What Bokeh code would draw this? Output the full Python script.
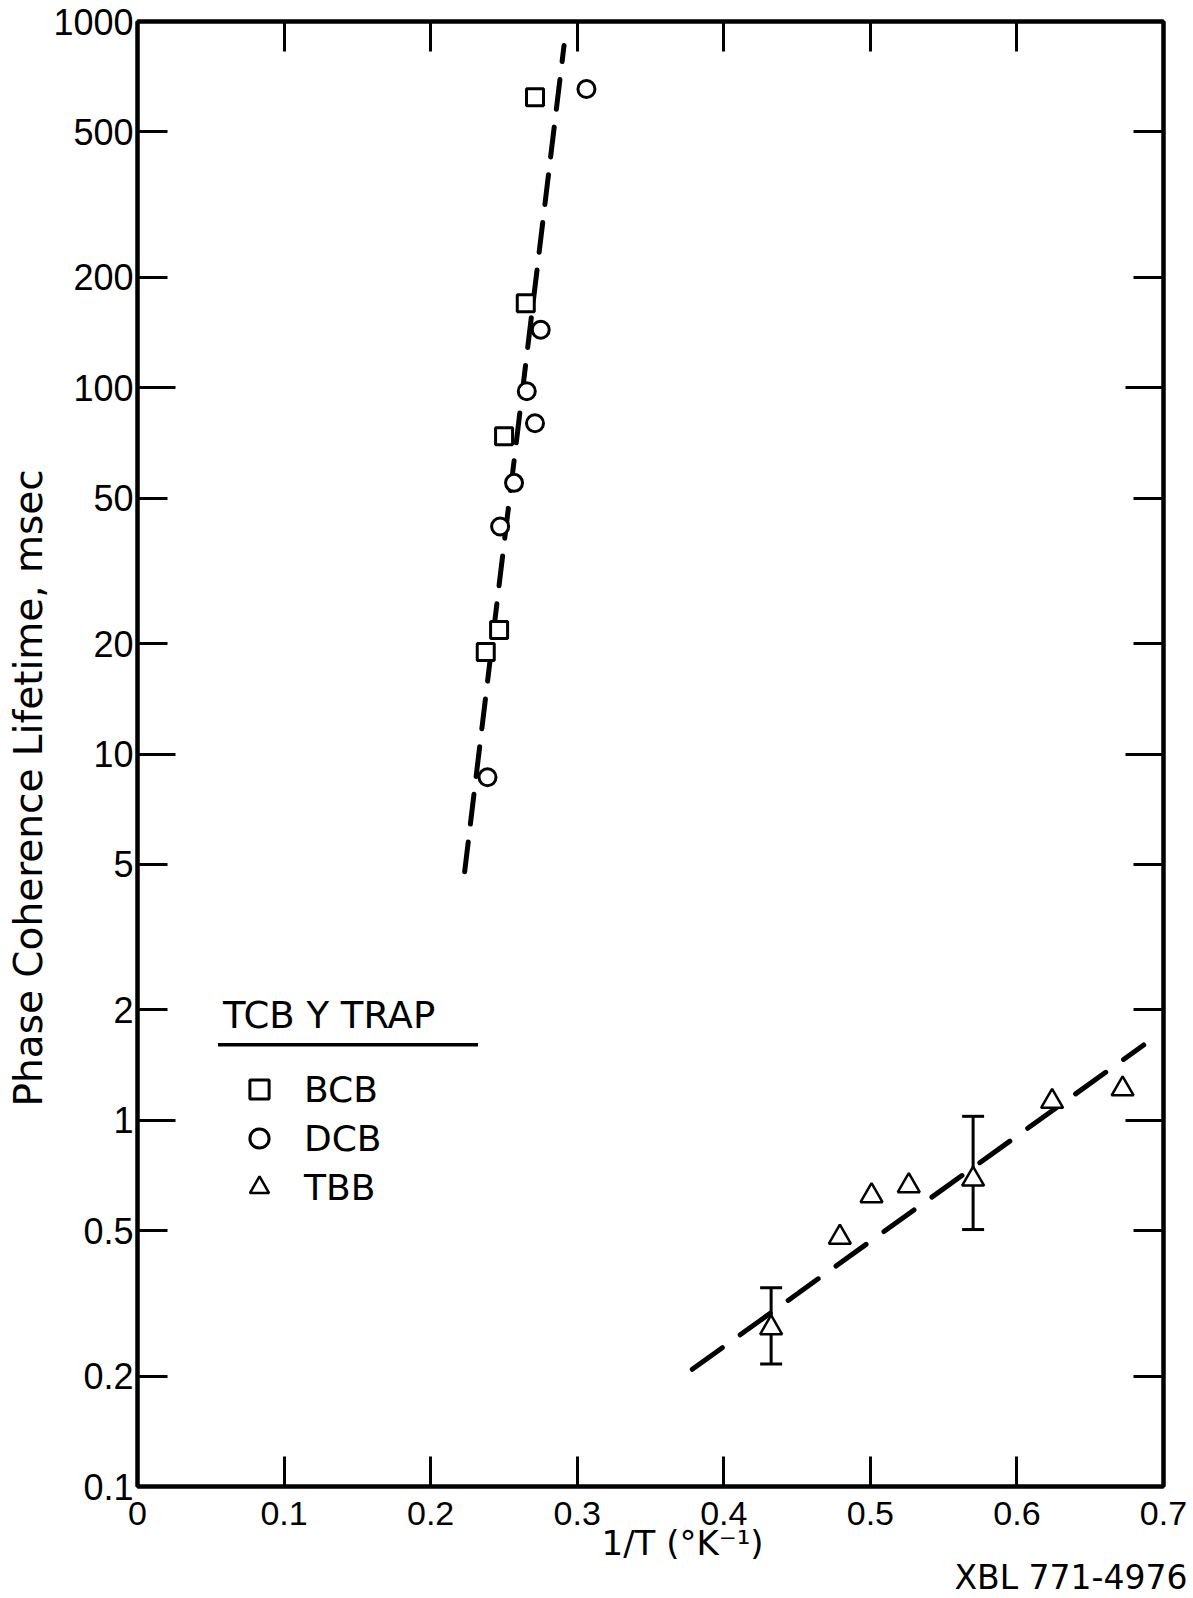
from bokeh.plotting import figure
from bokeh.models import (Range1d, FixedTicker, LinearAxis, LogAxis, Legend, LegendItem,
                          ColumnDataSource, Whisker, TeeHead, Title, BoxAnnotation)
from bokeh.embed import file_html
from bokeh.resources import INLINE

# ---- data ----
bcb_x = [0.2712, 0.2649, 0.2501, 0.2467, 0.2376]
bcb_y = [621, 170, 73.7, 21.8, 19.0]

dcb_x = [0.3063, 0.2751, 0.2656, 0.2712, 0.2569, 0.2474, 0.2388]
dcb_y = [654, 144, 97.8, 80, 55, 41.8, 8.64]

tbb_x = [0.4323, 0.4792, 0.5008, 0.5262, 0.5701, 0.624, 0.6721]
tbb_y = [0.271, 0.479, 0.622, 0.662, 0.690, 1.125, 1.217]

err_x = [0.4323, 0.5701]
err_lo = [0.216, 0.503]
err_hi = [0.349, 1.025]

fit1_x = [0.2232, 0.2910]
fit1_y = [4.77, 860]
fit2_x = [0.3785, 0.6865]
fit2_y = [0.209, 1.605]

x_ticks = [0, 0.1, 0.2, 0.3, 0.4, 0.5, 0.6, 0.7]
x_tick_labels = ["0", "0.1", "0.2", "0.3", "0.4", "0.5", "0.6", "0.7"]
y_ticks = [0.1, 0.2, 0.5, 1, 2, 5, 10, 20, 50, 100, 200, 500, 1000]
y_tick_labels = ["0.1", "0.2", "0.5", "1", "2", "5", "10", "20", "50", "100", "200", "500", "1000"]
y_decades = [0.1, 1, 10, 100, 1000]

legend_title = "TCB Y TRAP"
series_names = ["BCB", "DCB", "TBB"]
x_title = "1/T (°K⁻¹)"
y_title = "Phase Coherence Lifetime, msec"
stamp = "XBL 771-4976"

TITLE_FONT = "DejaVu Sans"
TICK_FONT = "Liberation Sans"

p = figure(width=1188, height=1596, x_range=Range1d(0, 0.7), y_range=Range1d(0.1, 1000),
           y_axis_type="log", output_backend="svg", toolbar_location=None,
           min_border_left=137, min_border_right=25, min_border_top=21, min_border_bottom=110)
p.grid.visible = False
p.outline_line_color = "black"
p.outline_line_width = 4
p.background_fill_color = "white"
p.border_fill_color = "white"


def style_axis(ax, ticks, minor, overrides, show_labels, font_size):
    ax.ticker = FixedTicker(ticks=ticks, minor_ticks=minor)
    ax.axis_line_width = 4
    ax.axis_line_color = "black"
    ax.major_tick_in = 30
    ax.major_tick_out = 0
    ax.minor_tick_in = 38
    ax.minor_tick_out = 0
    ax.major_tick_line_width = 3
    ax.minor_tick_line_width = 3
    ax.major_tick_line_color = "black"
    ax.minor_tick_line_color = "black"
    if show_labels:
        ax.major_label_overrides = overrides
        ax.major_label_text_font = TICK_FONT
        ax.major_label_text_font_size = font_size
        ax.major_label_text_color = "black"
    else:
        ax.major_label_overrides = {t: "" for t in ticks}
        ax.major_label_text_font_size = "0px"
        ax.major_label_standoff = 0


x_over = {t: s for t, s in zip(x_ticks, x_tick_labels)}
y_over = {t: s for t, s in zip(y_ticks, y_tick_labels)}

# bottom x axis (labels only; its title is a Title below so it can sit off-centre)
xa = p.xaxis[0]
style_axis(xa, x_ticks, [], x_over, True, "34px")
xa.major_label_standoff = 15

# left y axis
ya = p.yaxis[0]
style_axis(ya, y_ticks, y_decades, y_over, True, "36px")
ya.major_label_standoff = 4

# top and right mirror axes (ticks only)
top_ax = LinearAxis()
style_axis(top_ax, x_ticks, [], x_over, False, "0px")
p.add_layout(top_ax, "above")
right_ax = LogAxis()
style_axis(right_ax, y_ticks, y_decades, y_over, False, "0px")
p.add_layout(right_ax, "right")

# axis titles
p.add_layout(Title(text=y_title, align="left", offset=380, standoff=0,
                   text_font=TITLE_FONT, text_font_size="39px", text_font_style="normal",
                   text_color="black"), "left")
p.add_layout(Title(text=x_title, align="left", offset=464, standoff=-14,
                   text_font=TITLE_FONT, text_font_size="34px", text_font_style="normal",
                   text_color="black"), "below")
p.add_layout(Title(text=stamp, align="right", offset=-24, standoff=0,
                   text_font=TITLE_FONT, text_font_size="33px", text_font_style="normal",
                   text_color="black"), "below")

# fitted dashed lines
p.line(fit1_x, fit1_y, line_width=5, line_color="black", line_dash="30 18", line_cap="round")
p.line(fit2_x, fit2_y, line_width=5, line_color="black", line_dash="37 22", line_cap="round")

# error bars
err_src = ColumnDataSource(dict(x=err_x, lower=err_lo, upper=err_hi))
p.add_layout(Whisker(source=err_src, base="x", lower="lower", upper="upper",
                     line_width=3, line_color="black",
                     upper_head=TeeHead(size=22, line_width=3, line_color="black"),
                     lower_head=TeeHead(size=22, line_width=3, line_color="black")))

r_bcb = p.scatter(bcb_x, bcb_y, marker="square", size=17, fill_color="white",
                  line_color="black", line_width=3)
r_dcb = p.scatter(dcb_x, dcb_y, marker="circle", size=17, fill_color="white",
                  line_color="black", line_width=3)
r_tbb = p.scatter(tbb_x, tbb_y, marker="triangle", size=22, fill_color="white",
                  line_color="black", line_width=2.5)

legend = Legend(items=[LegendItem(label=series_names[0], renderers=[r_bcb]),
                       LegendItem(label=series_names[1], renderers=[r_dcb]),
                       LegendItem(label=series_names[2], renderers=[r_tbb])],
                title=legend_title, location=(86, 275),
                title_text_font=TITLE_FONT, title_text_font_size="37px",
                title_text_font_style="normal", title_text_color="black", title_standoff=28,
                label_text_font=TITLE_FONT, label_text_font_size="36px",
                label_text_color="black",
                glyph_width=72, glyph_height=48, label_height=48, label_standoff=9,
                spacing=1, padding=5, margin=0, border_line_color=None,
                background_fill_alpha=0)
p.add_layout(legend)

# underline of the legend title
p.add_layout(BoxAnnotation(left=80.5, right=340.5, bottom=440, top=443.5,
                           left_units="screen", right_units="screen",
                           top_units="screen", bottom_units="screen",
                           fill_color="black", fill_alpha=1, line_color=None))

open("out.html", "w").write(file_html(p, INLINE))
